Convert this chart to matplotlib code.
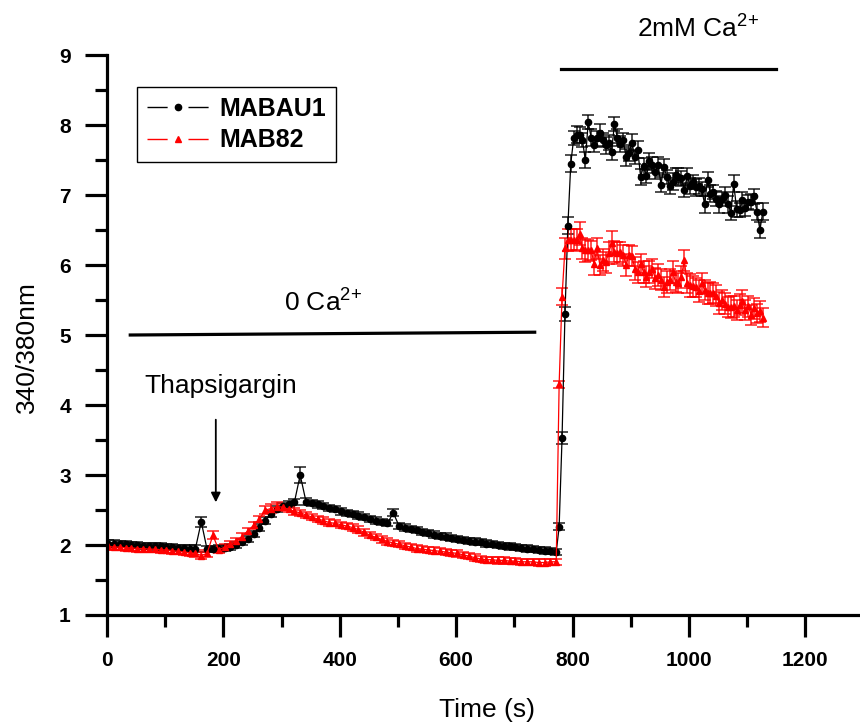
import numpy as np
import matplotlib
matplotlib.use("Agg")
import matplotlib.pyplot as plt
from matplotlib.lines import Line2D

plt.rcParams['font.family'] = ['Liberation Sans', 'DejaVu Sans']
plt.rcParams['mathtext.fontset'] = 'custom'
plt.rcParams['mathtext.rm'] = 'Liberation Sans'

# sampling: every 10 s before Ca2+ re-addition, every 5 s after
t_pre = np.arange(2, 773, 10)
t_post = np.arange(777, 1128, 5)
time = np.concatenate([t_pre, t_post])

# MABAU1 (black)
mabau1_pre = [2.02, 2.02, 2.01, 2.01, 2.00, 2.00, 1.99, 1.99, 1.98, 1.98,
              1.97, 1.97, 1.96, 1.96, 1.95, 1.95, 2.33, 1.94, 1.94, 1.95,
              1.96, 1.97, 2.00, 2.04, 2.09, 2.16, 2.25, 2.35, 2.44, 2.51,
              2.56, 2.59, 2.61, 3.00, 2.62, 2.60, 2.58, 2.56, 2.53, 2.51,
              2.48, 2.46, 2.44, 2.42, 2.40, 2.37, 2.35, 2.33, 2.31, 2.46,
              2.27, 2.25, 2.23, 2.21, 2.19, 2.17, 2.15, 2.13, 2.12, 2.10,
              2.09, 2.07, 2.06, 2.05, 2.04, 2.02, 2.01, 2.00, 1.99, 1.98,
              1.97, 1.96, 1.95, 1.94, 1.93, 1.92, 1.91, 1.90]
mabau1_post = [2.26, 3.53, 5.30, 6.56, 7.45, 7.81, 7.86, 7.86, 7.78, 7.50,
               8.04, 7.82, 7.71, 7.81, 7.89, 7.79, 7.71, 7.75, 7.62, 8.01,
               7.82, 7.73, 7.79, 7.54, 7.60, 7.75, 7.54, 7.65, 7.26, 7.41,
               7.27, 7.48, 7.43, 7.33, 7.43, 7.15, 7.40, 7.26, 7.13, 7.19,
               7.29, 7.26, 7.24, 7.07, 7.27, 7.13, 7.19, 7.11, 7.13, 7.08,
               6.87, 7.22, 7.02, 7.05, 6.95, 6.87, 6.94, 7.00, 6.87, 6.75,
               7.16, 6.80, 6.79, 6.93, 6.81, 6.90, 6.90, 6.98, 6.76, 6.50,
               6.76]
mabau1_err_pre = [0.045] * 16 + [0.07] + [0.045] * 16 + [0.12] + [0.045] * 15 + [0.05] + [0.045] * 28
mabau1_err_post = [0.05, 0.08, 0.10, 0.12, 0.12, 0.10, 0.12, 0.11, 0.10, 0.12,
                   0.10, 0.12, 0.10, 0.11, 0.12, 0.10, 0.12, 0.11, 0.12, 0.10,
                   0.12, 0.11, 0.10, 0.12, 0.11, 0.12, 0.10, 0.12, 0.11, 0.12,
                   0.10, 0.12, 0.11, 0.10, 0.12, 0.11, 0.12, 0.10, 0.11, 0.12,
                   0.10, 0.12, 0.11, 0.10, 0.12, 0.11, 0.10, 0.12, 0.11, 0.10,
                   0.12, 0.11, 0.12, 0.10, 0.11, 0.12, 0.10, 0.11, 0.12, 0.10,
                   0.12, 0.11, 0.10, 0.12, 0.11, 0.10, 0.12, 0.11, 0.12, 0.11,
                   0.12]

# MAB82 (red)
mab82_pre = [1.98, 1.97, 1.97, 1.96, 1.96, 1.95, 1.95, 1.94, 1.94, 1.93,
             1.93, 1.92, 1.91, 1.90, 1.89, 1.88, 1.85, 1.88, 2.14, 1.93,
             1.97, 2.01, 2.06, 2.12, 2.20, 2.28, 2.37, 2.50, 2.52, 2.55,
             2.54, 2.51, 2.48, 2.46, 2.43, 2.40, 2.37, 2.35, 2.32, 2.31,
             2.29, 2.27, 2.25, 2.22, 2.18, 2.14, 2.11, 2.08, 2.05, 2.03,
             2.01, 1.99, 1.97, 1.95, 1.94, 1.93, 1.92, 1.91, 1.90, 1.89,
             1.88, 1.86, 1.84, 1.82, 1.80, 1.79, 1.79, 1.78, 1.78, 1.77,
             1.77, 1.76, 1.76, 1.76, 1.75, 1.75, 1.76, 1.76]
mab82_post = [4.30, 5.55, 6.24, 6.36, 6.36, 6.36, 6.36, 6.45, 6.24, 6.21,
              6.21, 6.21, 6.02, 6.24, 6.00, 6.07, 6.04, 6.17, 6.31, 6.19,
              6.17, 6.19, 6.14, 6.00, 6.14, 6.13, 5.95, 5.90, 6.02, 5.90,
              5.83, 5.90, 5.95, 5.81, 5.86, 5.79, 5.69, 5.76, 5.79, 5.90,
              5.76, 5.74, 5.83, 6.07, 5.74, 5.71, 5.70, 5.68, 5.63, 5.74,
              5.64, 5.60, 5.60, 5.60, 5.56, 5.46, 5.50, 5.45, 5.40, 5.40,
              5.41, 5.36, 5.43, 5.48, 5.36, 5.41, 5.29, 5.38, 5.31, 5.34,
              5.25]
mab82_err_pre = [0.045] * 18 + [0.06] + [0.045] * 8 + [0.06] * 3 + [0.045] * 48
mab82_err_post = [0.05, 0.12, 0.15, 0.16, 0.15, 0.16, 0.15, 0.16, 0.15, 0.16,
                  0.15, 0.14, 0.16, 0.15, 0.14, 0.16, 0.15, 0.16, 0.17, 0.15,
                  0.16, 0.14, 0.15, 0.16, 0.15, 0.14, 0.16, 0.15, 0.14, 0.16,
                  0.15, 0.16, 0.14, 0.15, 0.16, 0.15, 0.14, 0.16, 0.15, 0.16,
                  0.15, 0.14, 0.16, 0.15, 0.14, 0.16, 0.15, 0.14, 0.16, 0.15,
                  0.14, 0.15, 0.16, 0.14, 0.15, 0.16, 0.14, 0.15, 0.14, 0.16,
                  0.15, 0.14, 0.15, 0.16, 0.14, 0.15, 0.14, 0.15, 0.14, 0.15,
                  0.14]

mabau1 = np.array(mabau1_pre + mabau1_post)
mabau1_err = np.array(mabau1_err_pre + mabau1_err_post)
mab82 = np.array(mab82_pre + mab82_post)
mab82_err = np.array(mab82_err_pre + mab82_err_post)

fig = plt.figure(figsize=(8.6, 7.22), dpi=100)
ax = fig.add_axes([0.1244, 0.1482, 0.8756, 0.7756])

ax.errorbar(time, mabau1, yerr=mabau1_err, fmt='-o', color='black', ms=4.5, lw=0.9,
            ecolor=(0, 0, 0, 0.75), elinewidth=1.3, capsize=4.5, capthick=1.3)
ax.errorbar(time, mab82, yerr=mab82_err, fmt='-^', color='red', ms=5, lw=0.9,
            ecolor=(1, 0, 0, 0.75), elinewidth=1.3, capsize=4.5, capthick=1.3)

ax.set_xlim(0, 1294)
ax.set_ylim(1, 9)
ax.set_xticks(np.arange(0, 1201, 200))
ax.set_xticks(np.arange(100, 1300, 200), minor=True)
ax.set_yticks(np.arange(1, 10, 1))
ax.set_yticks(np.arange(1.5, 9, 1), minor=True)
ax.spines['top'].set_visible(False)
ax.spines['right'].set_visible(False)
for s in ['left', 'bottom']:
    ax.spines[s].set_linewidth(2.3)
ax.tick_params(which='major', direction='out', length=16, width=2.3, pad=10, labelsize=15)
ax.tick_params(which='minor', direction='out', length=8.5, width=2.3)
for lab in ax.get_xticklabels() + ax.get_yticklabels():
    lab.set_fontweight('bold')

ax.set_xlabel('Time (s)', fontsize=19)
ax.set_ylabel('340/380nm', fontsize=19, va='center')
ax.xaxis.set_label_coords(0.505, -0.148)
ax.yaxis.set_label_coords(-0.106, 0.479)

# annotations
ax.plot([780, 1149], [8.8, 8.8], color='black', lw=2.3, clip_on=False)
ax.text(911, 9.39, r'2mM Ca$^{2{+}}$', fontsize=19, ha='left', va='center', clip_on=False)
ax.plot([40, 735], [5.0, 5.04], color='black', lw=2.3)
ax.text(304, 5.47, r'0 Ca$^{2{+}}$', fontsize=19, ha='left', va='center')
ax.text(65, 4.27, 'Thapsigargin', fontsize=19, ha='left', va='center')
ax.annotate('', xy=(187, 2.57), xytext=(187, 3.83),
            arrowprops=dict(arrowstyle='-|>', color='black', lw=1.3, mutation_scale=14))

# legend in the Origin style: line - symbol - line
h1 = (Line2D([], [], color='black', lw=1, dashes=(14.5, 15)),
      Line2D([], [], color='black', marker='o', ms=4.5, ls='none'))
h2 = (Line2D([], [], color='red', lw=1, dashes=(14.5, 15)),
      Line2D([], [], color='red', marker='^', ms=5, ls='none'))
leg = ax.legend([h1, h2], ['MABAU1', 'MAB82'], loc='upper left',
                bbox_to_anchor=(0.04, 0.943), borderaxespad=0, fancybox=False,
                edgecolor='black', framealpha=1, handlelength=2.5,
                handletextpad=0.4, labelspacing=0.3,
                prop={'weight': 'bold', 'size': 18})
leg.get_frame().set_linewidth(1)

fig.savefig('out.png', dpi=100)
